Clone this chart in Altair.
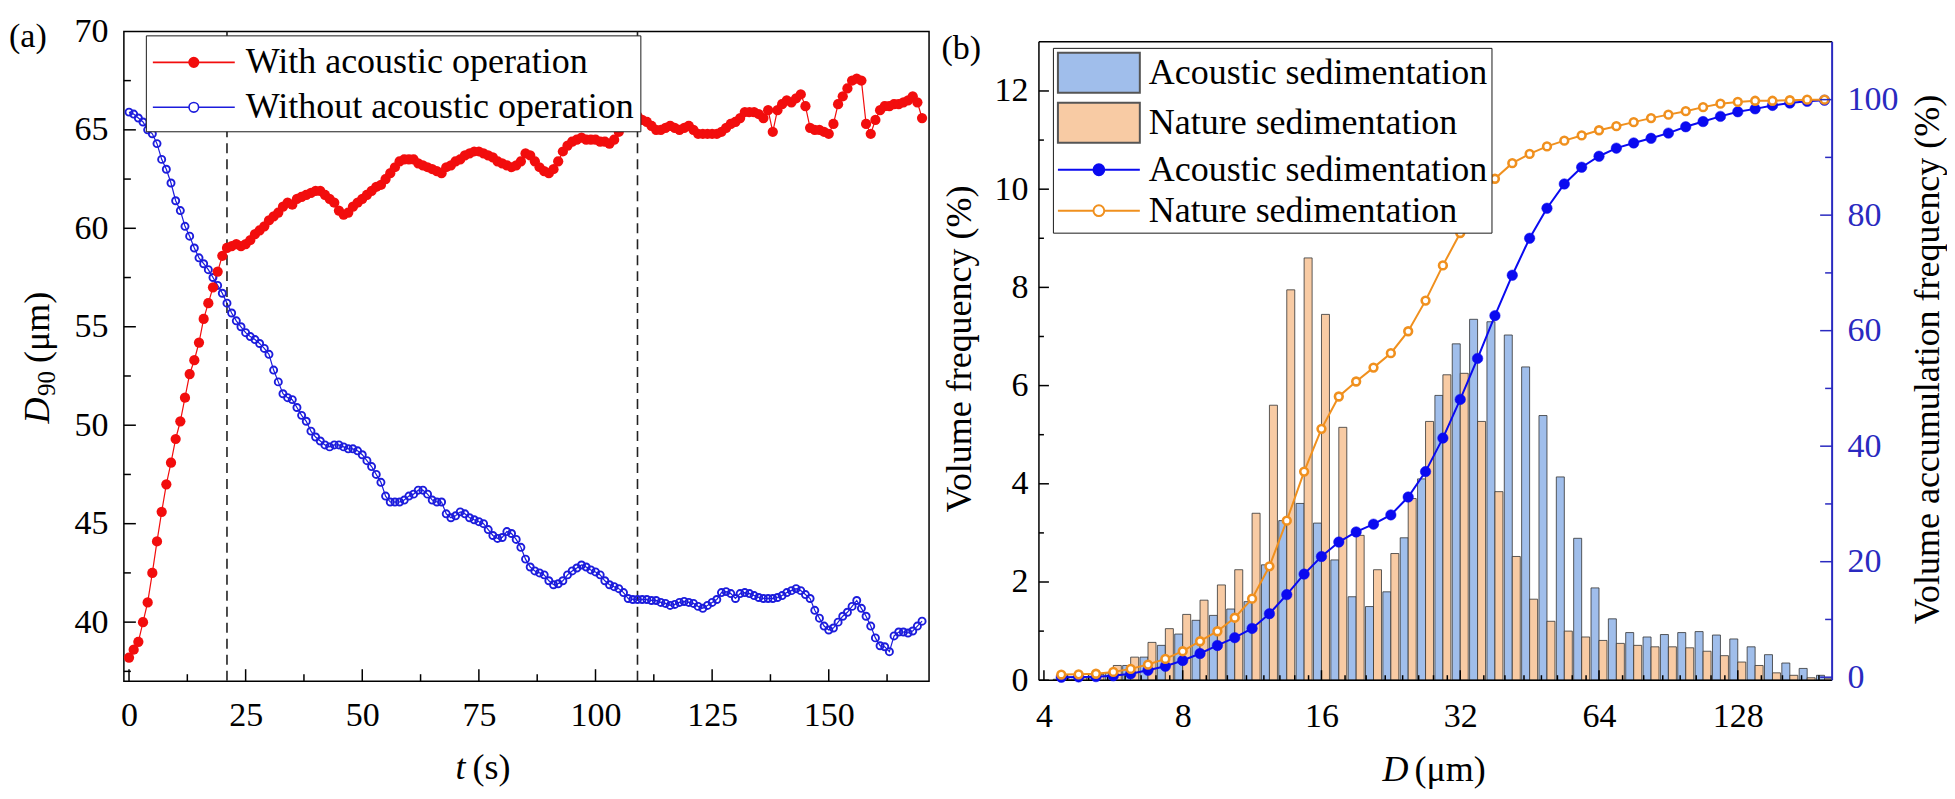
import altair as alt
import pandas as pd

SERIF = "Liberation Serif"
RED = "#F20D0D"
BLUE_A = "#1C1CDC"
BAR_BLUE = "#A0BEEB"
BAR_ORANGE = "#F8CBA4"
BLUE_B = "#0A0AF0"
ORANGE = "#F0901E"
AX_BLUE = "#2A2AC0"

# ---------------- panel (a) data ----------------
time_s = list(range(0, 171))
d90_with = [
    38.2, 38.6, 39.0, 40.0, 41.0, 42.5, 44.1, 45.6, 47.0, 48.1,
    49.3, 50.2, 51.4, 52.6, 53.3, 54.2, 55.4, 56.2, 57.0, 57.8,
    58.6, 59.0, 59.1, 59.2, 59.1, 59.2, 59.4, 59.7, 59.9, 60.1,
    60.4, 60.6, 60.8, 61.1, 61.3, 61.2, 61.5, 61.6, 61.7, 61.8,
    61.9, 61.9, 61.7, 61.5, 61.3, 60.9, 60.7, 60.8, 61.1, 61.3,
    61.5, 61.7, 61.9, 62.1, 62.2, 62.5, 62.8, 63.1, 63.4, 63.5,
    63.5, 63.5, 63.3, 63.2, 63.1, 63.0, 62.9, 62.8, 63.1, 63.2,
    63.4, 63.5, 63.7, 63.8, 63.9, 63.9, 63.8, 63.7, 63.6, 63.4,
    63.3, 63.2, 63.1, 63.2, 63.4, 63.8, 63.7, 63.4, 63.1, 62.9,
    62.8, 63.0, 63.4, 63.9, 64.2, 64.4, 64.5, 64.6, 64.5, 64.5,
    64.5, 64.4, 64.4, 64.3, 64.5, 64.9, 65.2, 65.4, 65.6, 65.7,
    65.5, 65.4, 65.2, 65.0, 65.0, 65.1, 65.2, 65.1, 65.0, 65.1,
    65.2, 65.0, 64.8, 64.8, 64.8, 64.8, 64.8, 64.9, 65.1, 65.3,
    65.4, 65.6, 65.9, 65.9, 65.9, 65.8, 65.6, 66.0, 64.9, 66.0,
    66.3, 66.5, 66.4, 66.6, 66.8, 66.2, 65.1, 65.0, 65.0, 64.9,
    64.8, 65.3, 66.3, 66.7, 67.1, 67.5, 67.6, 67.5, 65.3, 64.8,
    65.5, 66.0, 66.2, 66.2, 66.3, 66.3, 66.4, 66.5, 66.7, 66.4,
    65.6,
]
d90_without = [
    65.9, 65.8, 65.6, 65.4, 65.0, 64.8, 64.3, 63.5, 63.0, 62.3,
    61.4, 60.9, 60.1, 59.6, 59.0, 58.5, 58.2, 57.9, 57.5, 57.1,
    56.7, 56.2, 55.7, 55.3, 55.0, 54.7, 54.5, 54.35, 54.15, 53.9,
    53.6, 52.8, 52.2, 51.6, 51.4, 51.3, 50.9, 50.5, 50.2, 49.7,
    49.4, 49.2, 49.0, 48.9, 49.0, 49.0, 48.9, 48.8, 48.8, 48.7,
    48.5, 48.2, 47.9, 47.5, 47.1, 46.4, 46.1, 46.1, 46.1, 46.2,
    46.4, 46.5, 46.7, 46.7, 46.5, 46.2, 46.1, 46.1, 45.5, 45.3,
    45.4, 45.6, 45.5, 45.3, 45.2, 45.1, 45.0, 44.7, 44.4, 44.25,
    44.3, 44.6, 44.5, 44.2, 43.8, 43.2, 42.8, 42.6, 42.5, 42.4,
    42.1, 41.9, 41.95, 42.1, 42.4, 42.6, 42.75, 42.9, 42.8, 42.65,
    42.55, 42.4, 42.1, 41.9, 41.8, 41.7, 41.5, 41.2, 41.15, 41.15,
    41.15, 41.15, 41.1, 41.1, 41.0, 40.95, 40.85, 40.9, 41.0, 41.05,
    41.0, 40.95, 40.8, 40.7, 40.85, 41.0, 41.15, 41.5, 41.55, 41.45,
    41.2, 41.45, 41.5, 41.45, 41.35, 41.25, 41.2, 41.2, 41.2, 41.25,
    41.35, 41.5, 41.6, 41.7, 41.6, 41.4, 41.2, 40.6, 40.2, 39.8,
    39.6, 39.7, 40.0, 40.3, 40.5, 40.8, 41.1, 40.7, 40.3, 39.8,
    39.2, 38.8, 38.75, 38.5, 39.3, 39.5, 39.5, 39.45, 39.55, 39.8,
    40.05,
]
stage_marks_s = [21, 109]
a_x_labels = [0, 25, 50, 75, 100, 125, 150]
a_x_minor = [12.5, 37.5, 62.5, 87.5, 112.5, 137.5, 162.5]
a_y_labels = [40, 45, 50, 55, 60, 65, 70]
a_y_major = [40, 45, 50, 55, 60, 65]
a_y_minor = [37.5, 42.5, 47.5, 52.5, 57.5, 62.5, 67.5]

# ---------------- panel (b) data ----------------
size_um = [
    4.362, 4.757, 5.187, 5.657, 6.169, 6.727, 7.336, 8.0, 8.724, 9.514,
    10.375, 11.314, 12.338, 13.454, 14.672, 16.0, 17.448, 19.027, 20.749, 22.627,
    24.675, 26.909, 29.344, 32.0, 34.896, 38.055, 41.499, 45.255, 49.351, 53.817,
    58.688, 64.0, 69.793, 76.109, 82.998, 90.510, 98.701, 107.635, 117.377, 128.0,
    139.585, 152.219, 165.995, 181.019, 197.403,
]
freq_acoustic = [
    0.02, 0.02, 0.05, 0.15, 0.30, 0.47, 0.71, 0.94, 1.22, 1.32,
    1.45, 1.60, 2.35, 3.25, 3.60, 3.20, 2.45, 1.70, 1.50, 1.80,
    2.90, 4.10, 5.80, 6.85, 7.35, 7.30, 7.03, 6.38, 5.39, 4.14,
    2.89, 1.88, 1.25, 0.97, 0.88, 0.93, 0.97, 0.99, 0.92, 0.84,
    0.68, 0.52, 0.35, 0.24, 0.10,
]
freq_nature = [
    0.03, 0.05, 0.12, 0.30, 0.47, 0.77, 1.05, 1.34, 1.63, 1.94,
    2.25, 3.40, 5.60, 7.95, 8.60, 7.45, 5.15, 2.95, 2.25, 2.58,
    3.70, 5.27, 6.22, 6.25, 5.27, 3.84, 2.52, 1.65, 1.20, 1.00,
    0.88, 0.81, 0.75, 0.71, 0.68, 0.68, 0.66, 0.59, 0.50, 0.37,
    0.30, 0.15, 0.10, 0.05, 0.03,
]
cum_acoustic = [
    0.0, 0.05, 0.1, 0.25, 0.6, 1.2, 1.9, 2.9, 4.1, 5.5,
    6.85, 8.45, 11.0, 14.3, 17.85, 20.9, 23.4, 25.15, 26.5, 28.1,
    31.2, 35.6, 41.4, 48.1, 55.2, 62.6, 69.6, 76.0, 81.2, 85.4,
    88.3, 90.2, 91.6, 92.5, 93.3, 94.2, 95.3, 96.2, 97.1, 97.9,
    98.4, 99.0, 99.4, 99.7, 99.9,
]
cum_nature = [
    0.46, 0.5, 0.6, 0.92, 1.44, 2.19, 3.17, 4.5, 6.23, 7.96,
    10.3, 13.6, 19.2, 27.1, 35.6, 43.0, 48.6, 51.2, 53.6, 56.1,
    59.9, 65.2, 71.3, 76.9, 82.3, 86.3, 89.0, 90.6, 91.9, 92.9,
    93.8, 94.7, 95.4, 96.1, 96.8, 97.4, 98.0, 98.7, 99.3, 99.6,
    99.8, 99.8, 99.9, 100.0, 100.0,
]
b_x_labels = [4, 8, 16, 32, 64, 128]
b_x_minor = [4.5, 5, 5.5, 6, 6.5, 7, 7.5, 9, 10, 11, 12, 13, 14, 15,
             18, 20, 22, 24, 26, 28, 30, 36, 40, 44, 48, 52, 56, 60,
             72, 80, 88, 96, 104, 112, 120, 144, 160, 176, 192]
b_yl_labels = [0, 2, 4, 6, 8, 10, 12]
b_yl_minor = [1, 3, 5, 7, 9, 11]
b_yr_labels = [0, 20, 40, 60, 80, 100]
b_yr_minor = [10, 30, 50, 70, 90]
b_frame_top = [13]          # upper limit of the left axis (top of the frame)

LAB_WITH = "With acoustic operation"
LAB_WITHOUT = "Without acoustic operation"
SER_A = [LAB_WITH, LAB_WITHOUT]
CODES = ["bar_ac", "bar_na", "cum_ac", "cum_na"]

W_A, H_A = 806, 650.5
W_B, H_B = 794, 649.5
TOP_B = 10.5               # panel (b) frame starts this far below panel (a)'s frame
ONE = pd.DataFrame({"k": [0]})


# ---------------- legend symbol paths ----------------
def circ(cx, r):
    k = 0.5523 * r
    return (f"M{cx + r:.3f},0 C{cx + r:.3f},{k:.3f} {cx + k:.3f},{r:.3f} {cx:.3f},{r:.3f} "
            f"C{cx - k:.3f},{r:.3f} {cx - r:.3f},{k:.3f} {cx - r:.3f},0 "
            f"C{cx - r:.3f},{-k:.3f} {cx - k:.3f},{-r:.3f} {cx:.3f},{-r:.3f} "
            f"C{cx + k:.3f},{-r:.3f} {cx + r:.3f},{-k:.3f} {cx + r:.3f},0 Z")


def line_marker(cx, r):
    return f"M-1,0 H{cx - r:.3f} M{cx + r:.3f},0 H3.1 " + circ(cx, r)


LINE_A = line_marker(1.05, 0.24)
LINE_B = line_marker(1.05, 0.27)
RECT_B = "M-1,-1 H3.1 V1 H-1 Z"

AX = dict(labelFont=SERIF, labelFontSize=34, labelColor="black", ticks=False,
          domain=False, grid=False, title=None, labelFlush=False, labelOverlap=False)


def text(t, x, y, size=36, angle=0, style="normal", align="left", color="black"):
    return alt.Chart(ONE).mark_text(
        text=t, font=SERIF, fontSize=size, fontStyle=style, angle=angle,
        align=align, baseline="alphabetic", color=color,
    ).encode(x=alt.value(x), y=alt.value(y))


def anchor(y):
    return alt.Chart(ONE).mark_rule(strokeOpacity=0, strokeWidth=1).encode(
        x=alt.value(0), x2=alt.value(2), y=alt.value(y))


def bottom_ticks(vals, scale, length, H, width=1.5):
    return alt.Chart(pd.DataFrame({"v": vals})).mark_rule(color="black", strokeWidth=width).encode(
        x=alt.X("v:Q", scale=scale), y=alt.value(H), y2=alt.value(H - length))


def left_ticks(vals, scale, length, width=1.5):
    return alt.Chart(pd.DataFrame({"v": vals})).mark_rule(color="black", strokeWidth=width).encode(
        y=alt.Y("v:Q", scale=scale), x=alt.value(0), x2=alt.value(length))


def right_ticks(vals, scale, length, W, color, width=1.5):
    return alt.Chart(pd.DataFrame({"v": vals})).mark_rule(color=color, strokeWidth=width).encode(
        y=alt.Y("v:Q", scale=scale), x=alt.value(W - length), x2=alt.value(W))


# ---------------- panel (a) ----------------
df_a = pd.DataFrame({
    "t": time_s + time_s,
    "d90": d90_with + d90_without,
    "series": [LAB_WITH] * len(time_s) + [LAB_WITHOUT] * len(time_s),
})
xa = alt.Scale(domain=[-1.1, 171.5], nice=False, zero=False)
ya = alt.Scale(domain=[37, 70], nice=False, zero=False)
STROKE_A = alt.Scale(domain=SER_A, range=[RED, BLUE_A])

LEG_A = alt.Legend(
    title=None, orient="none", legendX=22, legendY=4, direction="vertical",
    labelFont=SERIF, labelFontSize=36, labelColor="black", labelLimit=1000,
    labelOffset=52, symbolSize=1600, symbolStrokeWidth=1.6,
    symbolFillColor="white", symbolStrokeColor="black", symbolOpacity=1,
    padding=6, rowPadding=6, strokeColor="#1a1a1a", fillColor="white", cornerRadius=0,
)

legend_helper_a = alt.Chart(df_a).transform_filter("false").mark_point(
    filled=True, opacity=1, strokeWidth=1.6
).encode(
    fill=alt.Fill("series:N", scale=alt.Scale(domain=SER_A, range=[RED, "transparent"]), legend=LEG_A),
    stroke=alt.Stroke("series:N", scale=STROKE_A, legend=LEG_A),
    shape=alt.Shape("series:N", scale=alt.Scale(domain=SER_A, range=[LINE_A, LINE_A]), legend=LEG_A),
)

dash_a = alt.Chart(pd.DataFrame({"t": stage_marks_s})).mark_rule(
    color="#222222", strokeDash=[10, 6], strokeWidth=1.6
).encode(x=alt.X("t:Q", scale=xa))

lines_a = alt.Chart(df_a).mark_line(strokeWidth=1.2).encode(
    x=alt.X("t:Q", scale=xa, axis=alt.Axis(values=a_x_labels, labelPadding=17, **AX)),
    y=alt.Y("d90:Q", scale=ya, axis=alt.Axis(values=a_y_labels, labelPadding=16, **AX)),
    stroke=alt.Stroke("series:N", scale=STROKE_A, legend=LEG_A),
)
pts_without = alt.Chart(df_a).transform_filter(alt.datum.series == LAB_WITHOUT).mark_point(
    shape="circle", filled=False, size=50, strokeWidth=1.9, color=BLUE_A, opacity=1
).encode(x=alt.X("t:Q", scale=xa), y=alt.Y("d90:Q", scale=ya))
pts_with = alt.Chart(df_a).transform_filter(alt.datum.series == LAB_WITH).mark_point(
    shape="circle", filled=True, size=105, color=RED, opacity=1
).encode(x=alt.X("t:Q", scale=xa), y=alt.Y("d90:Q", scale=ya))

panel_a = alt.layer(
    legend_helper_a, lines_a, dash_a, pts_without, pts_with,
    bottom_ticks(a_x_labels, xa, 12, H_A), bottom_ticks(a_x_minor, xa, 7, H_A),
    left_ticks(a_y_major, ya, 12), left_ticks(a_y_minor, ya, 7),
    text("(a)", -115, 16, size=34),
    text("D", -75, 392.5, angle=270, style="italic"),
    text("90", -69, 365, size=25, angle=270),
    text("(μm)", -75, 332, angle=270),
    text("t", 332, 748.5, style="italic"),
    text("(s)", 349, 748.5),
    anchor(-21.5),
).properties(width=W_A, height=H_A)

# ---------------- panel (b) ----------------
# left axis: 0..13 spans the frame; right axis: -0.52..110 spans the frame.
# the extra TOP_B pixels above the frame are covered by extending both domains.
yl_max = 13 + TOP_B * 13 / (H_B - TOP_B)
yr_max = 110 + TOP_B * 110.52 / (H_B - TOP_B)
xb = alt.Scale(type="log", base=2, domain=[4, 200], nice=False)
ybl = alt.Scale(domain=[0, yl_max], nice=False, zero=False)
ybr = alt.Scale(domain=[-0.52, yr_max], nice=False, zero=False)
fill_scale = alt.Scale(domain=CODES, range=[BAR_BLUE, BAR_ORANGE, BLUE_B, "#ffffff"])

LEG_B = alt.Legend(
    title=None, orient="none", legendX=14, legendY=6 + TOP_B, direction="vertical",
    labelFont=SERIF, labelFontSize=36, labelColor="black", labelLimit=1000,
    labelOffset=50, symbolSize=1600, symbolStrokeWidth=2,
    symbolFillColor="white", symbolStrokeColor="black", symbolOpacity=1,
    padding=4, rowPadding=2, strokeColor="#1a1a1a", fillColor="white", cornerRadius=0,
    labelExpr="indexof(datum.value, '_ac') > 0 ? 'Acoustic sedimentation' : 'Nature sedimentation'",
)

df_bars = pd.DataFrame({
    "D": size_um + size_um,
    "freq": freq_acoustic + freq_nature,
    "code": ["bar_ac"] * len(size_um) + ["bar_na"] * len(size_um),
})
df_cum = pd.DataFrame({
    "D": size_um + size_um,
    "cum": cum_acoustic + cum_nature,
    "code": ["cum_ac"] * len(size_um) + ["cum_na"] * len(size_um),
})

legend_helper_b = alt.Chart(df_cum).transform_filter("false").mark_point(
    filled=True, opacity=1, strokeWidth=2
).encode(
    fill=alt.Fill("code:N", scale=fill_scale, legend=LEG_B),
    stroke=alt.Stroke("code:N", scale=alt.Scale(domain=CODES, range=["#555555", "#555555", BLUE_B, ORANGE]),
                      legend=LEG_B),
    shape=alt.Shape("code:N", scale=alt.Scale(domain=CODES, range=[RECT_B, RECT_B, LINE_B, LINE_B]),
                    legend=LEG_B),
)

bar_ac = alt.Chart(df_bars).transform_filter(alt.datum.code == "bar_ac").mark_bar(
    size=8, xOffset=-4, stroke="#333333", strokeWidth=0.8, clip=True
).encode(
    x=alt.X("D:Q", scale=xb, axis=alt.Axis(values=b_x_labels, format="d", labelPadding=19, **AX)),
    y=alt.Y("freq:Q", scale=ybl, axis=alt.Axis(values=b_yl_labels, labelPadding=11, **AX)),
    fill=alt.Fill("code:N", scale=fill_scale, legend=LEG_B),
)
bar_na = alt.Chart(df_bars).transform_filter(alt.datum.code == "bar_na").mark_bar(
    size=8, xOffset=4, stroke="#333333", strokeWidth=0.8, clip=True
).encode(
    x=alt.X("D:Q", scale=xb),
    y=alt.Y("freq:Q", scale=ybl),
    fill=alt.Fill("code:N", scale=fill_scale, legend=LEG_B),
)
frame_df = pd.DataFrame({"v": b_frame_top})
frame_top = alt.Chart(frame_df).mark_rule(color="black", strokeWidth=1.5).encode(
    y=alt.Y("v:Q", scale=ybl), x=alt.value(0), x2=alt.value(W_B))
frame_left = alt.Chart(frame_df).mark_rule(color="black", strokeWidth=1.5).encode(
    y=alt.Y("v:Q", scale=ybl), y2=alt.value(H_B), x=alt.value(0))
frame_bottom = alt.Chart(ONE).mark_rule(color="black", strokeWidth=1.5).encode(
    y=alt.value(H_B), x=alt.value(0), x2=alt.value(W_B))
frame_right = alt.Chart(frame_df).mark_rule(color=AX_BLUE, strokeWidth=2).encode(
    y=alt.Y("v:Q", scale=ybl), y2=alt.value(H_B), x=alt.value(W_B))

AX_R = dict(AX)
AX_R["labelColor"] = AX_BLUE
line_ac = alt.Chart(df_cum).transform_filter(alt.datum.code == "cum_ac").mark_line(
    color=BLUE_B, strokeWidth=2
).encode(
    x=alt.X("D:Q", scale=xb),
    y=alt.Y("cum:Q", scale=ybr, axis=alt.Axis(orient="right", values=b_yr_labels, labelPadding=15, **AX_R)),
)
pts_ac = alt.Chart(df_cum).transform_filter(alt.datum.code == "cum_ac").mark_point(
    shape="circle", filled=True, size=110, stroke=BLUE_B, strokeWidth=0.5, opacity=1
).encode(
    x=alt.X("D:Q", scale=xb),
    y=alt.Y("cum:Q", scale=ybr),
    fill=alt.Fill("code:N", scale=fill_scale, legend=LEG_B),
)
line_na = alt.Chart(df_cum).transform_filter(alt.datum.code == "cum_na").mark_line(
    color=ORANGE, strokeWidth=2
).encode(
    x=alt.X("D:Q", scale=xb),
    y=alt.Y("cum:Q", scale=ybr),
)
pts_na = alt.Chart(df_cum).transform_filter(alt.datum.code == "cum_na").mark_point(
    shape="circle", filled=True, size=60, stroke=ORANGE, strokeWidth=2.6, opacity=1
).encode(
    x=alt.X("D:Q", scale=xb),
    y=alt.Y("cum:Q", scale=ybr),
    fill=alt.Fill("code:N", scale=fill_scale, legend=LEG_B),
)

group_left = alt.layer(
    bar_ac, bar_na,
    bottom_ticks(b_x_labels, xb, 10, H_B), bottom_ticks(b_x_minor, xb, 5, H_B),
    left_ticks(b_yl_labels, ybl, 10), left_ticks(b_yl_minor, ybl, 5),
    frame_top, frame_left, frame_bottom, frame_right,
)
group_right = alt.layer(
    line_ac, pts_ac, line_na, pts_na,
    right_ticks(b_yr_labels, ybr, 12, W_B, AX_BLUE), right_ticks(b_yr_minor, ybr, 7, W_B, AX_BLUE),
)
panel_b = alt.layer(
    legend_helper_b, group_left, group_right,
    text("(b)", -97.5, 17.4 + TOP_B, size=34),
    text("D", 344, 740 + TOP_B, style="italic"),
    text("(μm)", 376, 740 + TOP_B),
    text("Volume frequency (%)", -68, 318, angle=270, align="center"),
    text("Volume accumulation frequency (%)", 901, 318 + TOP_B, angle=270, align="center"),
).resolve_scale(y="independent").properties(
    width=W_B, height=H_B, view={"stroke": "transparent"}
)

chart = alt.hconcat(panel_a, panel_b, spacing=9).resolve_scale(
    fill="independent", stroke="independent", shape="independent"
).resolve_legend(
    fill="independent", stroke="independent", shape="independent"
).properties(padding=0).configure(
    font=SERIF
).configure_view(stroke="black", strokeWidth=1.5)

chart.save("out.html", embed_options={"renderer": "svg", "actions": False})
